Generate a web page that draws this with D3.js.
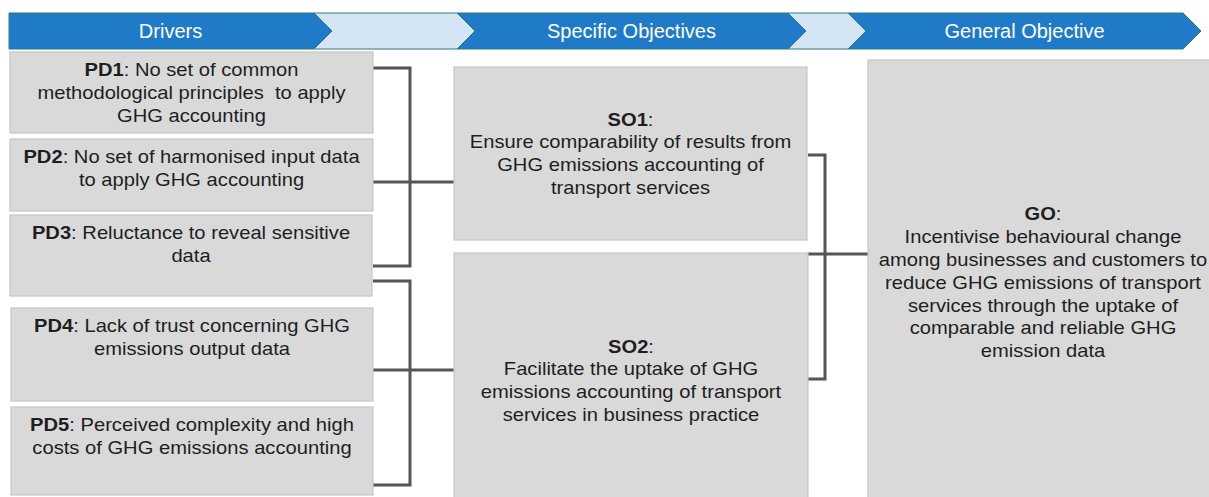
<!DOCTYPE html>
<meta charset="utf-8">
<style>
body { margin: 0; background: #fff; }
svg { display: block; font-family: "Liberation Sans", Arial, sans-serif; }
.box { fill: #d9d9d9; stroke: #c6c6c6; stroke-width: 1.2; }
.link { fill: none; stroke: #555; stroke-width: 3; stroke-linejoin: miter; }
.txt { fill: #1e1e1e; font-size: 18px; white-space: pre; }
.head { fill: #fff; font-size: 20px; }
</style>
<svg width="1209" height="497"></svg>
<script src="https://cdn.jsdelivr.net/npm/d3@7"></script>
<script>

// header stages
var stages = ["Drivers", "", "Specific Objectives", "", "General Objective"];
var stageKind = ["dark", "light", "dark", "light", "dark"];

// box labels and their text lines (first line follows the bold label)
var driverIds = ["PD1", "PD2", "PD3", "PD4", "PD5"];
var driverLines = [
  [": No set of common", "methodological principles  to apply", "GHG accounting"],
  [": No set of harmonised input data", "to apply GHG accounting"],
  [": Reluctance to reveal sensitive", "data"],
  [": Lack of trust concerning GHG", "emissions output data"],
  [": Perceived complexity and high", "costs of GHG emissions accounting"]
];
var soIds = ["SO1", "SO2"];
var soLines = [
  [":", "Ensure comparability of results from", "GHG emissions accounting of", "transport services"],
  [":", "Facilitate the uptake of GHG", "emissions accounting of transport", "services in business practice"]
];
var goId = "GO";
var goLines = [":", "Incentivise behavioural change", "among businesses and customers to",
  "reduce GHG emissions of transport", "services through the uptake of",
  "comparable and reliable GHG", "emission data"];

// layout (pixels)
var stageEdges = [9, 314, 457, 788, 848, 1183];
var headTop = 13, headBot = 49, tip = 18;
var driverBoxes = [[10, 52, 373, 133], [10, 139, 373, 211], [10, 215, 372, 296], [11, 308, 373, 401], [11, 407, 373, 495]];
var soBoxes = [[454, 67, 807, 240], [454, 253, 808, 508]];
var goBox = [868, 60, 1218, 505];
// brackets: [x from, x bar, x to, y top, y bottom, y mid]
var brackets = [
  [373, 410, 454, 68, 266, 182],
  [373, 410, 454, 281, 485, 370],
  [808, 825, 868, 155, 379, 254]
];

var lineH = 22.8, sx = 1.12;

var svg = d3.select("svg");

// header chevrons
var heads = svg.append("g");
stages.forEach(function(s, i) {
  var x0 = stageEdges[i], x1 = stageEdges[i + 1], mid = (headTop + headBot) / 2;
  var pts = [[x0, headTop], [x1, headTop], [x1 + tip, mid], [x1, headBot], [x0, headBot]];
  if (i > 0) pts.push([x0 + tip, mid]);
  heads.append("path")
      .attr("d", d3.line()(pts) + "Z")
      .attr("fill", stageKind[i] == "dark" ? "#1f7bc7" : "#d4e6f6")
      .attr("stroke", "#2d7a80")
      .attr("stroke-width", 1);
  if (s) heads.append("text")
      .attr("class", "head")
      .attr("x", (x0 + x1 + tip) / 2)
      .attr("y", mid + 7)
      .attr("text-anchor", "middle")
      .text(s);
});

// connectors
svg.append("g").selectAll("path")
  .data(brackets)
  .enter().append("path")
    .attr("class", "link")
    .attr("d", function(b) {
      return "M" + b[0] + "," + b[3] + "H" + b[1] + "V" + b[4] + "H" + b[0] +
             "M" + b[0] + "," + b[5] + "H" + b[2];
    });

function drawBox(box, id, lines, align) {
  svg.append("rect")
      .attr("class", "box")
      .attr("x", box[0]).attr("y", box[1])
      .attr("width", box[2] - box[0]).attr("height", box[3] - box[1]);
  var cx = (box[0] + box[2]) / 2;
  var y0 = align == "top" ? box[1] + 18 : (box[1] + box[3]) / 2 - (lines.length - 1) * lineH / 2;
  lines.forEach(function(l, i) {
    var t = svg.append("text")
        .attr("class", "txt")
        .attr("text-anchor", "middle")
        .attr("transform", "translate(" + cx + "," + (y0 + i * lineH + 6.3) + ") scale(" + sx + ",1)");
    if (i == 0) t.append("tspan").attr("font-weight", "bold").text(id);
    t.append("tspan").text(l);
  });
}

driverBoxes.forEach(function(b, i) { drawBox(b, driverIds[i], driverLines[i], "top"); });
soBoxes.forEach(function(b, i) { drawBox(b, soIds[i], soLines[i], "middle"); });
drawBox(goBox, goId, goLines, "middle");

</script>
